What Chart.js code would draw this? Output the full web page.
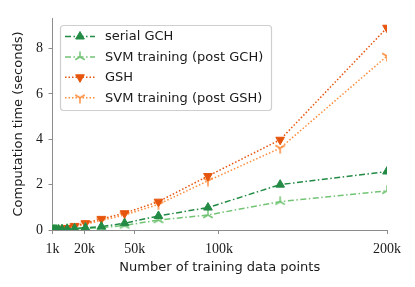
<!DOCTYPE html>
<html>
<head>
<meta charset="utf-8">
<script src="https://cdn.jsdelivr.net/npm/chart.js@4/dist/chart.umd.min.js"></script>
<style>
  html, body { margin: 0; padding: 0; background: #fff; }
  #wrap { width: 415px; height: 287px; }
</style>
</head>
<body>
<div id="wrap"><canvas id="chart" width="415" height="287"></canvas></div>
<script>
// training set sizes
var sizes = [1000, 1460, 2130, 3110, 4540, 6630, 9670, 14120, 20600, 30070, 43880, 64050, 93480, 136440, 200000]

// computation time (seconds)
var serialGCH = [0.005, 0.008, 0.01, 0.015, 0.02, 0.03, 0.04, 0.07, 0.1, 0.15, 0.3, 0.62, 0.99, 2.0, 2.58]
var svmPostGCH = [0.003, 0.005, 0.008, 0.01, 0.015, 0.02, 0.03, 0.05, 0.07, 0.1, 0.2, 0.44, 0.66, 1.25, 1.73]
var gsh = [0.01, 0.015, 0.02, 0.03, 0.04, 0.06, 0.09, 0.18, 0.3, 0.49, 0.74, 1.25, 2.38, 3.98, 8.92]
var svmPostGSH = [0.008, 0.012, 0.018, 0.025, 0.035, 0.05, 0.07, 0.14, 0.25, 0.42, 0.66, 1.13, 2.17, 3.61, 7.67]

var xTicks = [1000, 20000, 50000, 100000, 200000]
var yTicks = [0, 2, 4, 6, 8]

var darkGreen = '#238b45'
var lightGreen = '#74c476'
var darkOrange = '#e6550d'
var lightOrange = '#fd8d3c'
var axisGray = '#8c8c8c'

var dashDot = [6, 2.5, 1.5, 2.5]
var dotted = [1.5, 2]

// three-pronged markers (matplotlib tri_up / tri_down)
function triMarker(color, up) {
    var c = document.createElement('canvas')
    c.width = 12
    c.height = 12
    var ctx = c.getContext('2d')
    ctx.strokeStyle = color
    ctx.lineWidth = 1.5
    ctx.translate(6, 6)
    var angles = up ? [-90, 30, 150] : [90, -30, -150]
    ctx.beginPath()
    angles.forEach(function(a) {
        var r = a * Math.PI / 180
        ctx.moveTo(0, 0)
        ctx.lineTo(Math.cos(r) * 5.5, Math.sin(r) * 5.5)
    })
    ctx.stroke()
    return c
}

function points(values) {
    return sizes.map(function(s, i) {
        return { x: s, y: values[i] }
    })
}

var series = [{
    label: 'serial GCH',
    data: points(serialGCH),
    borderColor: darkGreen,
    backgroundColor: darkGreen,
    borderDash: dashDot,
    pointStyle: 'triangle',
    pointRotation: 0,
    pointRadius: 5
}, {
    label: 'SVM training (post GCH)',
    data: points(svmPostGCH),
    borderColor: lightGreen,
    backgroundColor: lightGreen,
    borderDash: dashDot,
    pointStyle: triMarker(lightGreen, true),
    pointRotation: 0,
    pointRadius: 5
}, {
    label: 'GSH',
    data: points(gsh),
    borderColor: darkOrange,
    backgroundColor: darkOrange,
    borderDash: dotted,
    pointStyle: 'triangle',
    pointRotation: 180,
    pointRadius: 5
}, {
    label: 'SVM training (post GSH)',
    data: points(svmPostGSH),
    borderColor: lightOrange,
    backgroundColor: lightOrange,
    borderDash: dotted,
    pointStyle: triMarker(lightOrange, false),
    pointRotation: 0,
    pointRadius: 5
}]

series.forEach(function(s) {
    s.borderWidth = 1.5
    s.pointBorderWidth = 1
    s.pointBorderColor = s.borderColor
    s.fill = false
    s.tension = 0
})

// legend drawn inside the plot, matplotlib style
var innerLegend = {
    id: 'innerLegend',
    afterDraw: function(chart) {
        var ctx = chart.ctx
        var x0 = 60.5, y0 = 25.5, w = 211, h = 85
        ctx.save()
        ctx.beginPath()
        ctx.roundRect(x0, y0, w, h, 3)
        ctx.fillStyle = 'rgba(255,255,255,0.85)'
        ctx.fill()
        ctx.strokeStyle = '#cfcfcf'
        ctx.lineWidth = 1.2
        ctx.stroke()

        ctx.font = '13px "DejaVu Sans"'
        ctx.textBaseline = 'middle'
        chart.data.datasets.forEach(function(ds, i) {
            var y = 36.5 + i * 20.4
            ctx.setLineDash(ds.borderDash)
            ctx.strokeStyle = ds.borderColor
            ctx.lineWidth = ds.borderWidth
            ctx.beginPath()
            ctx.moveTo(65, y)
            ctx.lineTo(95, y)
            ctx.stroke()
            ctx.setLineDash([])

            var mx = 80
            if (ds.pointStyle === 'triangle') {
                var r = ds.pointRadius
                var dir = ds.pointRotation === 180 ? -1 : 1
                ctx.beginPath()
                for (var k = 0; k < 3; k++) {
                    var a = k * 2 * Math.PI / 3
                    var px = mx + Math.sin(a) * r
                    var py = y - dir * Math.cos(a) * r
                    if (k === 0) ctx.moveTo(px, py)
                    else ctx.lineTo(px, py)
                }
                ctx.closePath()
                ctx.fillStyle = ds.borderColor
                ctx.lineWidth = 1
                ctx.fill()
                ctx.stroke()
            } else {
                var img = ds.pointStyle
                ctx.drawImage(img, mx - img.width / 2, y - img.height / 2)
            }

            ctx.fillStyle = '#1a1a1a'
            ctx.fillText(ds.label, 105, y + 0.5)
        })
        ctx.restore()
    }
}

new Chart(document.getElementById('chart'), {
    type: 'line',
    data: { datasets: series },
    options: {
        responsive: false,
        animation: false,
        events: [],
        layout: { padding: { left: 0, top: 18, right: 28, bottom: 0 } },
        plugins: {
            legend: { display: false },
            tooltip: { enabled: false }
        },
        scales: {
            x: {
                type: 'linear',
                min: 1000,
                max: 200000,
                afterBuildTicks: function(scale) {
                    scale.ticks = xTicks.map(function(v) { return { value: v } })
                },
                afterFit: function(scale) { scale.height = 57 },
                grid: { drawOnChartArea: false, drawTicks: true, tickLength: 4, color: axisGray },
                border: { display: true, color: axisGray, width: 1 },
                ticks: {
                    color: '#1a1a1a',
                    padding: 7,
                    maxRotation: 0,
                    autoSkip: false,
                    font: { family: '"Liberation Serif"', size: 14 },
                    callback: function(v) { return (v / 1000) + 'k' }
                },
                title: {
                    display: true,
                    text: 'Number of training data points',
                    color: '#1a1a1a',
                    font: { family: '"DejaVu Sans"', size: 13 },
                    padding: { top: 0, bottom: 11.5 }
                }
            },
            y: {
                min: 0,
                max: 9.35,
                afterBuildTicks: function(scale) {
                    scale.ticks = yTicks.map(function(v) { return { value: v } })
                },
                afterFit: function(scale) { scale.width = 52.5 },
                grid: { drawOnChartArea: false, drawTicks: true, tickLength: 4, color: axisGray },
                border: { display: true, color: axisGray, width: 1 },
                ticks: {
                    color: '#1a1a1a',
                    padding: 5.5,
                    font: { family: '"Liberation Serif"', size: 14 }
                },
                title: {
                    display: true,
                    text: 'Computation time (seconds)',
                    color: '#1a1a1a',
                    font: { family: '"DejaVu Sans"', size: 13 },
                    padding: { top: 11.2, bottom: 0 }
                }
            }
        }
    },
    plugins: [innerLegend]
})
</script>
</body>
</html>
